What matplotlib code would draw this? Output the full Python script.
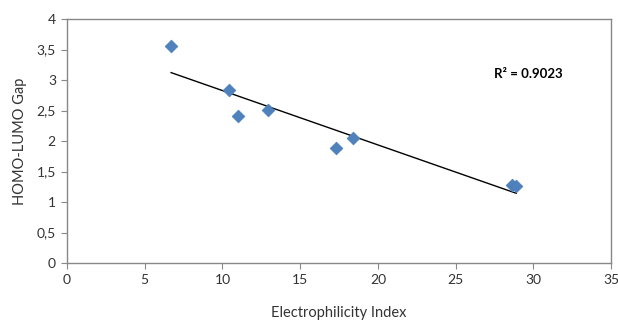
import matplotlib
matplotlib.use("Agg")
import matplotlib.pyplot as plt
from matplotlib.ticker import FuncFormatter
import numpy as np

# values
electrophilicity = [6.7, 10.4, 11.0, 12.9, 17.3, 18.4, 28.6, 28.9]
gap = [3.55, 2.84, 2.41, 2.51, 1.89, 2.05, 1.28, 1.26]
r2_label = "R² = 0.9023"

plt.rcParams['font.family'] = ['Lato', 'DejaVu Sans']

fig = plt.figure(figsize=(6.18, 3.2), dpi=100)
ax = fig.add_axes([0.1084, 0.178, 0.8803, 0.7626])

ax.scatter(electrophilicity, gap, marker='D', s=42, color='#4F81BD',
           edgecolors='#4A7EBB', linewidths=0.5, zorder=3)

# linear trend line
slope, intercept = np.polyfit(electrophilicity, gap, 1)
xs = np.array([min(electrophilicity), max(electrophilicity)])
ax.plot(xs, slope * xs + intercept, color='black', lw=1, zorder=2)

ax.text(29.7, 3.1, r2_label, ha='center', va='center', fontsize=9.5,
        fontweight='bold')

ax.set_xlim(0, 35)
ax.set_ylim(0, 4)
ax.set_xticks(range(0, 36, 5))
ax.set_yticks(np.arange(0, 4.01, 0.5))
ax.yaxis.set_major_formatter(FuncFormatter(lambda v, p: ('%g' % v).replace('.', ',')))

for s in ax.spines.values():
    s.set_color('#888888')
    s.set_linewidth(1)
ax.tick_params(direction='out', length=4, color='#888888', labelsize=10,
               labelcolor='#333333', pad=4)

ax.set_xlabel('Electrophilicity Index', fontsize=10.5, color='#333333', labelpad=14)
ax.set_ylabel('HOMO-LUMO Gap', fontsize=10.5, color='#333333', labelpad=7)

fig.savefig('out.png', dpi=100)
